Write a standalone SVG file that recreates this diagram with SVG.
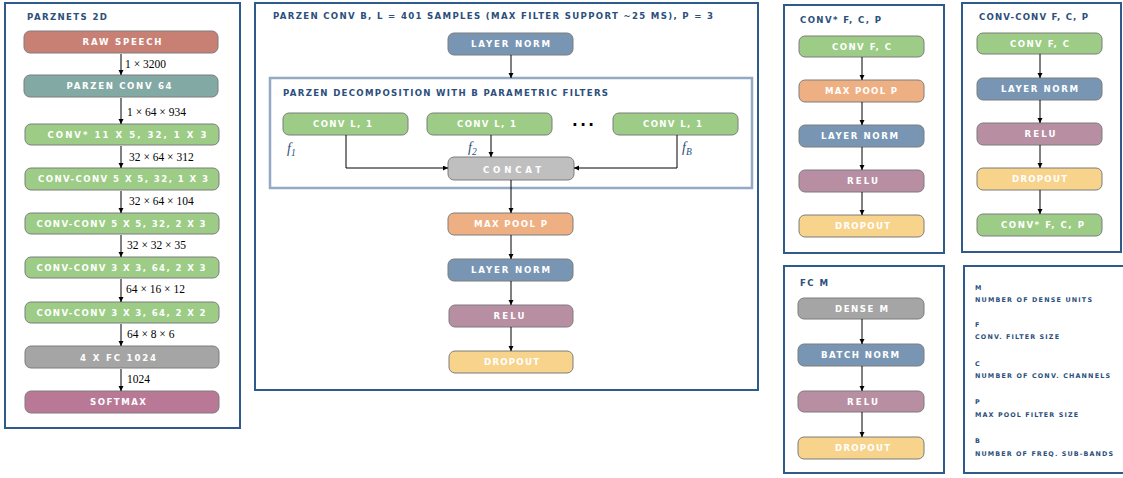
<svg xmlns="http://www.w3.org/2000/svg" width="1123" height="478" viewBox="0 0 1123 478">
<defs>
<marker id="ah" markerUnits="userSpaceOnUse" markerWidth="6" markerHeight="6" refX="5" refY="2.5" orient="auto">
<path d="M0,0 L5,2.5 L0,5 z" fill="#000"/>
</marker>
<style>
.panel{fill:#fff;stroke:#2f5b8c;stroke-width:2}
.inner{fill:none;stroke:#93a9c4;stroke-width:2.5}
.n rect{stroke:#7d7d7d;stroke-width:1}
.lbl{font-family:"DejaVu Sans",sans-serif;font-weight:bold;font-size:8.6px;fill:#fff;text-anchor:middle}
.title{font-family:"DejaVu Sans",sans-serif;font-weight:bold;font-size:8.6px;fill:#2c4f7c}
.leg{font-family:"DejaVu Sans",sans-serif;font-weight:bold;font-size:6.4px;fill:#2c4f7c}
.dim{font-family:"Liberation Serif",serif;font-size:11.5px;fill:#000}
.fl{font-family:"Liberation Serif",serif;font-style:italic;font-size:14px;fill:#2c4f7c}
.e{stroke:#000;stroke-width:1;fill:none;marker-end:url(#ah)}
.red{fill:#c98074}.teal{fill:#82a9a4}.green{fill:#9ccc86}.grey{fill:#a5a5a5}.lgrey{fill:#bfbfbf}
.pink{fill:#b87896}.orange{fill:#eeb083}.blue{fill:#7896b4}.mauve{fill:#b78ea2}.yellow{fill:#f7d38c}
</style>
</defs>

<!-- panels -->
<g id="panel-parznets">
<rect class="panel" x="5" y="3" width="235" height="425"/>
<text class="title" x="27" y="20" textLength="80" lengthAdjust="spacing">PARZNETS 2D</text>
</g>
<g id="panel-parzenconv">
<rect class="panel" x="255" y="3" width="503" height="387"/>
<text class="title" x="273" y="19" textLength="440" lengthAdjust="spacing">PARZEN CONV B, L = 401 SAMPLES (MAX FILTER SUPPORT ~25 MS), P = 3</text>
</g>
<g id="panel-decomp">
<rect class="inner" x="270" y="78" width="482" height="110"/>
<text class="title" x="283" y="96" textLength="325" lengthAdjust="spacing">PARZEN DECOMPOSITION WITH B PARAMETRIC FILTERS</text>
</g>
<g id="panel-convstar">
<rect class="panel" x="784" y="5" width="160" height="248"/>
<text class="title" x="800" y="23" textLength="81" lengthAdjust="spacing">CONV* F, C, P</text>
</g>
<g id="panel-convconv">
<rect class="panel" x="962" y="3" width="159" height="249"/>
<text class="title" x="979" y="20" textLength="109" lengthAdjust="spacing">CONV-CONV F, C, P</text>
</g>
<g id="panel-fc">
<rect class="panel" x="784" y="266" width="160" height="207"/>
<text class="title" x="800" y="286" textLength="28" lengthAdjust="spacing">FC M</text>
</g>
<g id="legend">
<rect class="panel" x="964" y="266" width="162" height="207"/>
<text class="leg" x="975" y="290">M</text>
<text class="leg" x="975" y="302" textLength="117" lengthAdjust="spacing">NUMBER OF DENSE UNITS</text>
<text class="leg" x="975" y="327">F</text>
<text class="leg" x="975" y="339" textLength="84" lengthAdjust="spacing">CONV. FILTER SIZE</text>
<text class="leg" x="975" y="366">C</text>
<text class="leg" x="975" y="378" textLength="135" lengthAdjust="spacing">NUMBER OF CONV. CHANNELS</text>
<text class="leg" x="975" y="404">P</text>
<text class="leg" x="975" y="417" textLength="103" lengthAdjust="spacing">MAX POOL FILTER SIZE</text>
<text class="leg" x="975" y="443">B</text>
<text class="leg" x="975" y="456" textLength="138" lengthAdjust="spacing">NUMBER OF FREQ. SUB-BANDS</text>
</g>

<!-- left column nodes -->
<g id="n-raw" class="n"><rect class="red" x="24" y="31" width="194" height="22" rx="6"/><text class="lbl" x="122" y="45" textLength="79" lengthAdjust="spacing">RAW SPEECH</text></g>
<g id="n-pconv" class="n"><rect class="teal" x="24" y="75" width="194" height="22" rx="6"/><text class="lbl" x="119" y="89" textLength="105" lengthAdjust="spacing">PARZEN CONV 64</text></g>
<g id="n-c1" class="n"><rect class="green" x="25" y="124" width="194" height="21" rx="6"/><text class="lbl" x="127" y="138" textLength="159" lengthAdjust="spacing">CONV* 11 X 5, 32, 1 X 3</text></g>
<g id="n-c2" class="n"><rect class="green" x="25" y="168" width="194" height="22" rx="6"/><text class="lbl" x="123" y="182" textLength="170" lengthAdjust="spacing">CONV-CONV 5 X 5, 32, 1 X 3</text></g>
<g id="n-c3" class="n"><rect class="green" x="25" y="213" width="194" height="21" rx="6"/><text class="lbl" x="121" y="227" textLength="169" lengthAdjust="spacing">CONV-CONV 5 X 5, 32, 2 X 3</text></g>
<g id="n-c4" class="n"><rect class="green" x="25" y="257" width="194" height="21" rx="6"/><text class="lbl" x="121" y="271" textLength="169" lengthAdjust="spacing">CONV-CONV 3 X 3, 64, 2 X 3</text></g>
<g id="n-c5" class="n"><rect class="green" x="25" y="302" width="194" height="21" rx="6"/><text class="lbl" x="121" y="316" textLength="169" lengthAdjust="spacing">CONV-CONV 3 X 3, 64, 2 X 2</text></g>
<g id="n-fc" class="n"><rect class="grey" x="25" y="346" width="194" height="22" rx="6"/><text class="lbl" x="118" y="361" textLength="76" lengthAdjust="spacing">4 X FC 1024</text></g>
<g id="n-soft" class="n"><rect class="pink" x="25" y="391" width="194" height="22" rx="6"/><text class="lbl" x="118" y="405" textLength="56" lengthAdjust="spacing">SOFTMAX</text></g>

<!-- middle nodes -->
<g id="m-ln1" class="n"><rect class="blue" x="448" y="33" width="125" height="22" rx="6"/><text class="lbl" x="510.5" y="47" textLength="79" lengthAdjust="spacing">LAYER NORM</text></g>
<g id="m-cv1" class="n"><rect class="green" x="283" y="113" width="125" height="22" rx="6"/><text class="lbl" x="342.5" y="127" textLength="59" lengthAdjust="spacing">CONV L, 1</text></g>
<g id="m-cv2" class="n"><rect class="green" x="427" y="113" width="125" height="22" rx="6"/><text class="lbl" x="486.5" y="127" textLength="59" lengthAdjust="spacing">CONV L, 1</text></g>
<g id="m-cvb" class="n"><rect class="green" x="613" y="113" width="125" height="22" rx="6"/><text class="lbl" x="672.5" y="127" textLength="59" lengthAdjust="spacing">CONV L, 1</text></g>
<g id="m-dots"><text x="572" y="126" font-family="DejaVu Sans,sans-serif" font-weight="bold" font-size="15" fill="#000" textLength="22" lengthAdjust="spacing">...</text></g>
<g id="m-concat" class="n"><rect class="lgrey" x="448" y="157" width="126" height="23" rx="6"/><text class="lbl" x="512" y="172.5" font-size="10" textLength="58" lengthAdjust="spacing">CONCAT</text></g>
<g id="m-mp" class="n"><rect class="orange" x="448" y="213" width="125" height="22" rx="6"/><text class="lbl" x="510.5" y="227" textLength="73" lengthAdjust="spacing">MAX POOL P</text></g>
<g id="m-ln2" class="n"><rect class="blue" x="448" y="259" width="125" height="22" rx="6"/><text class="lbl" x="510.5" y="273" textLength="79" lengthAdjust="spacing">LAYER NORM</text></g>
<g id="m-relu" class="n"><rect class="mauve" x="449" y="305" width="124" height="22" rx="6"/><text class="lbl" x="509" y="319" textLength="31" lengthAdjust="spacing">RELU</text></g>
<g id="m-drop" class="n"><rect class="yellow" x="449" y="351" width="124" height="22" rx="6"/><text class="lbl" x="511.5" y="365" textLength="55" lengthAdjust="spacing">DROPOUT</text></g>

<!-- f labels -->
<g id="f-labels">
<text class="fl" x="287" y="153">f<tspan font-size="9.5" dy="3">1</tspan></text>
<text class="fl" x="468" y="152">f<tspan font-size="9.5" dy="3">2</tspan></text>
<text class="fl" x="682" y="152">f<tspan font-size="9.5" dy="3">B</tspan></text>
</g>

<!-- conv* panel nodes -->
<g id="a-conv" class="n"><rect class="green" x="799" y="36" width="125" height="21" rx="6"/><text class="lbl" x="861.5" y="50" textLength="59" lengthAdjust="spacing">CONV F, C</text></g>
<g id="a-mp" class="n"><rect class="orange" x="799" y="80" width="125" height="22" rx="6"/><text class="lbl" x="861" y="94" textLength="72" lengthAdjust="spacing">MAX POOL P</text></g>
<g id="a-ln" class="n"><rect class="blue" x="799" y="125" width="125" height="22" rx="6"/><text class="lbl" x="859.5" y="139" textLength="77" lengthAdjust="spacing">LAYER NORM</text></g>
<g id="a-relu" class="n"><rect class="mauve" x="799" y="170" width="125" height="22" rx="6"/><text class="lbl" x="862.5" y="184" textLength="31" lengthAdjust="spacing">RELU</text></g>
<g id="a-drop" class="n"><rect class="yellow" x="799" y="215" width="125" height="22" rx="6"/><text class="lbl" x="862.5" y="229" textLength="55" lengthAdjust="spacing">DROPOUT</text></g>

<!-- conv-conv panel nodes -->
<g id="b-conv" class="n"><rect class="green" x="977" y="33" width="125" height="21" rx="6"/><text class="lbl" x="1039.5" y="47" textLength="59" lengthAdjust="spacing">CONV F, C</text></g>
<g id="b-ln" class="n"><rect class="blue" x="977" y="78" width="125" height="22" rx="6"/><text class="lbl" x="1039.5" y="92" textLength="77" lengthAdjust="spacing">LAYER NORM</text></g>
<g id="b-relu" class="n"><rect class="mauve" x="977" y="123" width="125" height="22" rx="6"/><text class="lbl" x="1040" y="137" textLength="31" lengthAdjust="spacing">RELU</text></g>
<g id="b-drop" class="n"><rect class="yellow" x="977" y="168" width="125" height="22" rx="6"/><text class="lbl" x="1039.5" y="182" textLength="55" lengthAdjust="spacing">DROPOUT</text></g>
<g id="b-convs" class="n"><rect class="green" x="977" y="214" width="125" height="22" rx="6"/><text class="lbl" x="1042.5" y="228" textLength="83" lengthAdjust="spacing">CONV* F, C, P</text></g>

<!-- fc panel nodes -->
<g id="c-dense" class="n"><rect class="grey" x="798" y="298" width="126" height="21" rx="6"/><text class="lbl" x="861.5" y="312" textLength="53" lengthAdjust="spacing">DENSE M</text></g>
<g id="c-bn" class="n"><rect class="blue" x="798" y="344" width="126" height="22" rx="6"/><text class="lbl" x="860" y="358" textLength="78" lengthAdjust="spacing">BATCH NORM</text></g>
<g id="c-relu" class="n"><rect class="mauve" x="798" y="391" width="126" height="21" rx="6"/><text class="lbl" x="862.5" y="405" textLength="31" lengthAdjust="spacing">RELU</text></g>
<g id="c-drop" class="n"><rect class="yellow" x="798" y="437" width="126" height="22" rx="6"/><text class="lbl" x="862.5" y="451" textLength="55" lengthAdjust="spacing">DROPOUT</text></g>

<!-- connectors -->
<g id="connectors">
<path class="e" d="M121,54 V75"/>
<path class="e" d="M121,98 V124"/>
<path class="e" d="M121,146 V168"/>
<path class="e" d="M121,191 V213"/>
<path class="e" d="M121,235 V257"/>
<path class="e" d="M121,279 V302"/>
<path class="e" d="M121,324 V346"/>
<path class="e" d="M121,369 V391"/>
<path class="e" d="M511,55 V78"/>
<path class="e" d="M346,135 V168 H448"/>
<path class="e" d="M491,135 V157"/>
<path class="e" d="M677,135 V168 H574"/>
<path class="e" d="M511,180 V213"/>
<path class="e" d="M511,235 V259"/>
<path class="e" d="M511,281 V305"/>
<path class="e" d="M511,327 V351"/>
<path class="e" d="M862,57 V80"/>
<path class="e" d="M862,102 V125"/>
<path class="e" d="M862,147 V170"/>
<path class="e" d="M862,192 V215"/>
<path class="e" d="M1040,54 V78"/>
<path class="e" d="M1040,100 V123"/>
<path class="e" d="M1040,145 V168"/>
<path class="e" d="M1040,190 V214"/>
<path class="e" d="M862,319 V344"/>
<path class="e" d="M862,366 V391"/>
<path class="e" d="M862,412 V437"/>
</g>
<g id="dims">
<text class="dim" x="125" y="68">1 × 3200</text>
<text class="dim" x="127" y="116">1 × 64 × 934</text>
<text class="dim" x="129" y="161">32 × 64 × 312</text>
<text class="dim" x="129" y="205">32 × 64 × 104</text>
<text class="dim" x="127" y="249">32 × 32 × 35</text>
<text class="dim" x="126" y="293">64 × 16 × 12</text>
<text class="dim" x="127" y="338">64 × 8 × 6</text>
<text class="dim" x="127" y="383">1024</text>
</g>
</svg>
